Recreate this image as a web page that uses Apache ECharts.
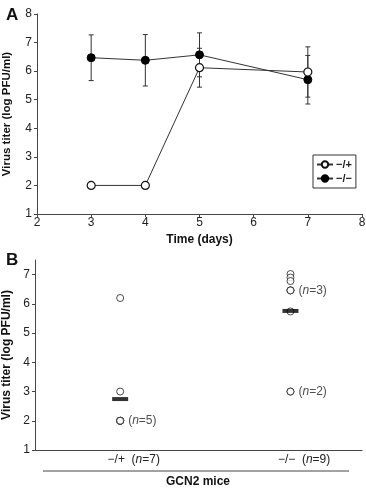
<!DOCTYPE html>
<html>
<head>
<meta charset="utf-8">
<script src="https://cdn.jsdelivr.net/npm/echarts@6/dist/echarts.min.js"></script>
<style>
  html, body { margin: 0; padding: 0; background: #fff; }
  #chart { width: 366px; height: 489px; }
</style>
</head>
<body>
<div id="chart"></div>
<script>
// panel A - virus titer over time
const days = [3, 4, 5, 7];
const titerHet = [2.0, 2.0, 6.12, 5.97];
const errHet = [0, 0, 0.68, 0.88];
const titerKo = [6.47, 6.38, 6.57, 5.70];
const errKo = [0.8, 0.9, 0.77, 0.85];
const seriesNames = ['−/+', '−/−'];

// panel B - individual mice
const groups = ['−/+', '−/−'];
const pointsHet = [6.2, 3.0, 2.0, 2.0, 2.0, 2.0, 2.0];
const pointsKo = [7.02, 6.9, 6.78, 6.46, 6.46, 6.46, 5.74, 3.0, 3.0];
const yTicksB = [1, 2, 3, 4, 5, 6, 7];

const FONT = '"Liberation Sans", Arial, sans-serif';
const INK = '#222';
const AXIS = '#444';

let chartDom = document.getElementById('chart');
let myChart = echarts.init(chartDom);

function errData(vals, errs) {
  let out = [];
  vals.forEach((v, i) => {
    if (errs[i] > 0) out.push([days[i], v - errs[i], v + errs[i]]);
  });
  return out;
}

// scatter points, label "(n=k)" on the first of a repeated value
function pointData(pts, gi) {
  let seen = {};
  return pts.map(v => {
    let cnt = pts.filter(p => p === v).length;
    let item = { value: [gi + 1, v] };
    if (cnt > 1 && !seen[v]) {
      item.label = { show: true, formatter: '{t|(}{i|n}{t|=' + cnt + ')}' };
    }
    seen[v] = true;
    return item;
  });
}

const mean = arr => arr.reduce((a, b) => a + b, 0) / arr.length;
const allPoints = [pointsHet, pointsKo];

const errorBar = function (params, api) {
  let x = api.value(0);
  let top = api.coord([x, api.value(2)]);
  let bot = api.coord([x, api.value(1)]);
  let w = 2.5;
  let st = { stroke: '#333', lineWidth: 1 };
  return {
    type: 'group',
    children: [
      { type: 'line', shape: { x1: top[0], y1: top[1], x2: bot[0], y2: bot[1] }, style: st },
      { type: 'line', shape: { x1: top[0] - w, y1: top[1], x2: top[0] + w, y2: top[1] }, style: st },
      { type: 'line', shape: { x1: bot[0] - w, y1: bot[1], x2: bot[0] + w, y2: bot[1] }, style: st }
    ]
  };
};

const labelRich = {
  t: { fontSize: 12, fontFamily: FONT, color: INK },
  i: { fontSize: 12, fontFamily: FONT, color: INK, fontStyle: 'italic' }
};

let option = {
  backgroundColor: '#fff',
  animation: false,
  textStyle: { fontFamily: FONT },
  title: [
    { text: 'A', left: 1, top: 2, textStyle: { fontSize: 17, fontWeight: 'bold', color: '#111', fontFamily: FONT } },
    { text: 'B', left: 1, top: 247, textStyle: { fontSize: 17, fontWeight: 'bold', color: '#111', fontFamily: FONT } }
  ],
  legend: {
    data: seriesNames,
    orient: 'vertical',
    left: 313,
    top: 155,
    borderColor: '#333',
    borderWidth: 1,
    borderRadius: 0,
    padding: [4, 4, 4, 3],
    itemGap: 3,
    itemWidth: 16,
    itemHeight: 8,
    textStyle: { fontSize: 11, fontWeight: 'bold', color: INK, fontFamily: FONT, padding: [0, 0, 0, -2] }
  },
  grid: [
    { left: 37, right: 4, top: 14, bottom: 275, outerBoundsMode: 'none' },
    { left: 35, right: 4, top: 260, bottom: 39, outerBoundsMode: 'none' }
  ],
  xAxis: [
    {
      gridIndex: 0,
      type: 'value',
      min: 2,
      max: 8,
      interval: 1,
      name: 'Time (days)',
      nameLocation: 'middle',
      nameGap: 20,
      nameTextStyle: { fontSize: 12, fontWeight: 'bold', color: '#111', fontFamily: FONT },
      axisLine: { lineStyle: { color: AXIS, width: 1 } },
      axisTick: { show: true, length: 3, lineStyle: { color: AXIS } },
      axisLabel: { fontSize: 12, color: INK, margin: 3, fontFamily: FONT },
      splitLine: { show: false }
    },
    {
      gridIndex: 1,
      type: 'value',
      min: 0.5,
      max: 2.42,
      axisLine: { lineStyle: { color: AXIS, width: 1 } },
      axisTick: { show: false },
      axisLabel: {
        customValues: [1.08, 2.08],
        margin: 4,
        formatter: function (v) {
          let i = Math.round(v) - 1;
          return '{t|' + groups[i] + '  (}{i|n}{t|=' + allPoints[i].length + ')}';
        },
        rich: labelRich
      },
      splitLine: { show: false }
    }
  ],
  yAxis: [
    {
      gridIndex: 0,
      type: 'value',
      min: 1,
      max: 8,
      interval: 1,
      name: 'Virus titer (log PFU/ml)',
      nameLocation: 'middle',
      nameGap: 24,
      nameTextStyle: { fontSize: 11.5, fontWeight: 'bold', color: '#111', fontFamily: FONT },
      axisLine: { show: true, lineStyle: { color: AXIS, width: 1 } },
      axisTick: { show: true, length: 3, lineStyle: { color: AXIS } },
      axisLabel: { fontSize: 12, color: INK, margin: 5, fontFamily: FONT },
      splitLine: { show: false }
    },
    {
      gridIndex: 1,
      type: 'value',
      min: 1,
      max: 7.5,
      name: 'Virus titer (log PFU/ml)',
      nameLocation: 'middle',
      nameGap: 22,
      nameTextStyle: { fontSize: 12, fontWeight: 'bold', color: '#111', fontFamily: FONT },
      axisLine: { show: true, lineStyle: { color: AXIS, width: 1 } },
      axisTick: { show: true, length: 3, customValues: yTicksB, lineStyle: { color: AXIS } },
      axisLabel: { fontSize: 12, color: INK, margin: 5, customValues: yTicksB, fontFamily: FONT },
      splitLine: { show: false }
    }
  ],
  series: [
    {
      name: 'errHet',
      type: 'custom',
      xAxisIndex: 0,
      yAxisIndex: 0,
      renderItem: errorBar,
      data: errData(titerHet, errHet),
      z: 1
    },
    {
      name: 'errKo',
      type: 'custom',
      xAxisIndex: 0,
      yAxisIndex: 0,
      renderItem: errorBar,
      data: errData(titerKo, errKo),
      z: 1
    },
    {
      name: seriesNames[0],
      type: 'line',
      xAxisIndex: 0,
      yAxisIndex: 0,
      symbol: 'circle',
      symbolSize: 8,
      lineStyle: { color: '#333', width: 1 },
      itemStyle: { color: '#fff', borderColor: '#111', borderWidth: 1.2 },
      data: days.map((d, i) => [d, titerHet[i]]),
      z: 3
    },
    {
      name: seriesNames[1],
      type: 'line',
      xAxisIndex: 0,
      yAxisIndex: 0,
      symbol: 'circle',
      symbolSize: 8,
      lineStyle: { color: '#333', width: 1 },
      itemStyle: { color: '#000', borderColor: '#000', borderWidth: 1 },
      data: days.map((d, i) => [d, titerKo[i]]),
      z: 2
    },
    {
      name: 'mice',
      type: 'scatter',
      xAxisIndex: 1,
      yAxisIndex: 1,
      symbol: 'circle',
      symbolSize: 7,
      itemStyle: { color: '#fff', borderColor: '#222', borderWidth: 1 },
      label: { show: false, position: 'right', distance: 4, rich: labelRich },
      data: pointData(pointsHet, 0).concat(pointData(pointsKo, 1)),
      z: 2
    },
    {
      name: 'mean',
      type: 'scatter',
      xAxisIndex: 1,
      yAxisIndex: 1,
      symbol: 'rect',
      symbolSize: [16, 4],
      itemStyle: { color: '#000' },
      data: allPoints.map((p, i) => [i + 1, mean(p)]),
      z: 4
    }
  ],
  graphic: [
    {
      type: 'line',
      shape: { x1: 43, y1: 471, x2: 349, y2: 471 },
      style: { stroke: AXIS, lineWidth: 1 }
    },
    {
      type: 'text',
      x: 198,
      y: 482,
      style: {
        text: 'GCN2 mice',
        fontSize: 12,
        fontWeight: 'bold',
        fontFamily: FONT,
        fill: '#111',
        align: 'center',
        verticalAlign: 'middle'
      }
    }
  ]
};

option && myChart.setOption(option);
</script>
</body>
</html>
